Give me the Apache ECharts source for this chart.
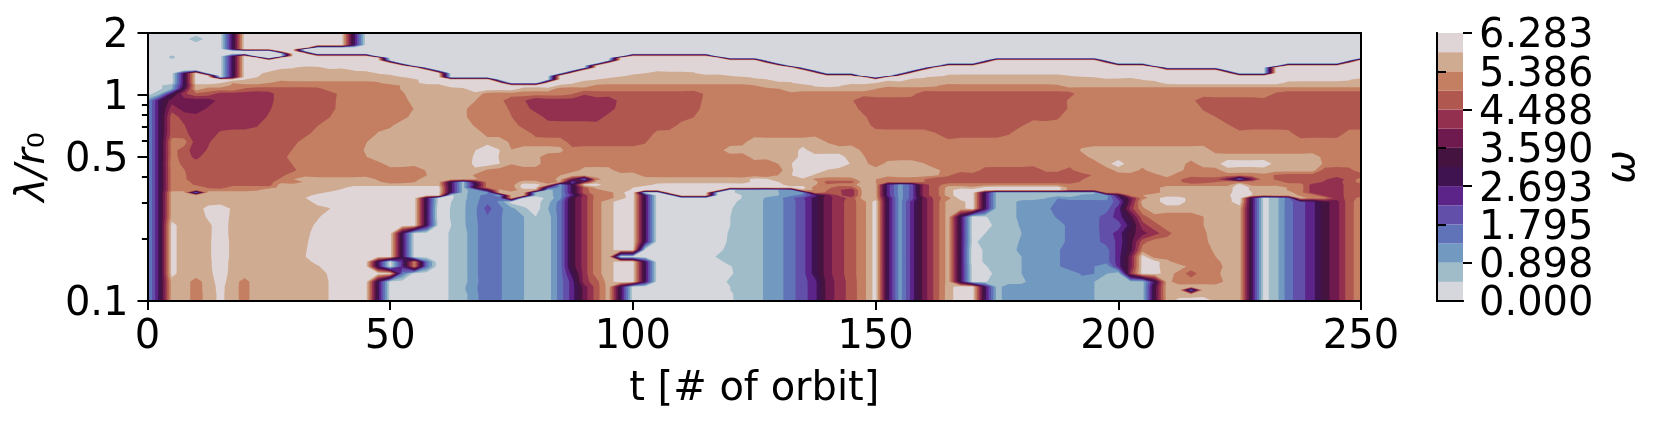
<!DOCTYPE html>
<html><head><meta charset="utf-8">
<style>html,body{margin:0;padding:0;background:#fff}#c{width:1660px;height:423px}</style>
<script src="https://cdn.jsdelivr.net/npm/echarts@6/dist/echarts.min.js"></script>
</head><body><div id="c"></div>
<script>
const xTicks=[0,50,100,150,200,250];
const yMajor=[0.1,0.5,1,2];
const yMinor=[0.2,0.3,0.4,0.6,0.7,0.8,0.9];
const cbTicks=[0,0.898,1.795,2.693,3.590,4.488,5.386,6.283];
const cbColors=['#D6D7DD','#A0BCC9','#7299BF','#6173B8','#624FA9','#5C2389','#3E1350','#451340','#6E1A4E','#933050','#B05750','#C47F62','#CFAB91','#E0D5D6'];
const omegaMax=6.283;
// sampled wavelengths, top to bottom
const lambdas=[2,1.871,1.749,1.698,1.673,1.636,1.588,1.542,1.514,1.474,1.426,1.385,1.359,1.319,1.276,1.238,1.22,1.188,1.145,1.112,1.071,1.013,.94,.857,.781,.712,.649,.591,.539,.5,.464,.431,.408,.39,.378,.367,.356,.346,.336,.326,.316,.303,.281,.256,.233,.213,.194,.177,.164,.155,.147,.136,.124,.1173,.113,.1077,.1];
// each row: level index, last t of that level, next level index, ...
const r00=[0,16,6,18.5,13,41,6,43,0];
const r01=[0,8.5,1,11.5,0,16,6,18.5,13,41,6,43,0];
const r02=[0,16,6,18.5,13,41,6,43,0];
const r03=[0,16,6,18.5,13,32.5,0];
const r04=[0,16,6,18.5,13,30.7,0];
const r05=[0,26.3,13,31.6,0];
const r06=[0,28.3,13,33.3,0];
const r07=[0,4.6,1,5.7,0,16,6,18.5,13,21.8,0,27.6,13,46.2,0,98.8,13,116.3,0];
const r08=[0,4.6,1,5.7,0,16,6,18.5,13,23.5,0,26.6,13,47.7,0,97.3,13,118.3,0];
const r09=[0,16,6,18.5,13,49.8,0,95.2,13,126.3,0,173.5,13,195.7,0,248.7,13];
const r10=[0,16,6,18.5,13,52.4,0,92.5,13,129.1,0,171.3,13,198.8,0,246.1,13];
const r11=[0,16,6,18.5,13,54.9,0,91.7,13,131.6,0,162.6,13,206.3,0,233.4,13];
const r12=[0,16,6,18.5,13,30.5,12,36,13,56.4,0,90.5,13,133.1,0,161,13,208.1,0,232,13];
const r13=[0,16,6,18.5,13,26.3,12,42.3,13,58.8,0,88.5,13,135.6,0,158.7,13,220.9,0,231,13];
const r14=[0,5,6,8,13,11.2,0,16,6,18.5,13,23.7,12,47.2,13,61,0,86.1,13,102.5,12,113,13,138.4,0,155.5,13,223.4,0,230.3,13];
const r15=[0,5,6,8,13,13.3,0,16,6,18.5,13,23,12,51,13,61.7,0,84.2,13,98.5,12,120,13,146.7,0,152.9,13,164,12,190,13];
const r16=[0,5,6,8,13,14.5,0,16,6,18.5,13,22.6,12,53,13,62,0,83.5,13,96.3,12,124,13,148,0,151.6,13,160.5,12,195,13];
const r17=[0,5,6,8,13,20,12,55.7,13,71,0,82.5,13,92.6,12,127.7,13,156.8,12,204.8,13,248,12];
const r18=[0,5,6,8,13,15,12,25,11,48,12,56,13,73.4,0,81,13,88,12,133,13,150,12,209,13,234,12];
const r19=[0,3,1,5.5,6,8,13,9.5,12,17,11,52,12,61,13,84.5,12,92,11,125,12,137,13,143,12,163,11,188,12];
const r20=[0,3,1,5.5,7,8,12,11.5,11,19.7,10,36,11,52,12,65.5,13,76.5,12,84,11,130,12,150,11];
const r21=[0,1,1,3,6,5.5,9,8,10,14,9,26,10,39,11,53,12,69,11,87.7,10,114.5,11,158.4,10,191,11,232,10];
const r22=[2,1,6,3.5,8,14,9,26,10,38.8,11,53.7,12,67.5,11,73.3,10,77.8,9,96.7,10,114.2,11,145.4,10,189.4,11,215.8,10];
const r23=[2,1,6,3.5,9,6.5,8,12,9,25.5,10,38.7,11,54.8,12,65.8,11,74.3,10,78.8,9,96.3,10,113.8,11,146.4,10,189.5,11,217.2,10];
const r24=[2,1,6,3.5,10,6.4,9,24.5,10,37.6,11,53.7,12,65.8,11,75,10,81.5,9,94,10,112.5,11,148.1,10,188,11,220,10];
const r25=[2,1,6,3.5,10,7.7,9,22.8,10,35.2,11,50.6,12,67.1,11,76.4,10,109,11,149,10,180.4,11,223,10];
const r26=[2,1,6,3.5,10,8.4,9,14.4,10,33.5,11,47.2,12,69.2,11,79.2,10,104.2,11,162.6,10,177.7,11,236,10,246.4,11];
const r27=[2,1,6,3.5,11,8.8,9,12.9,10,31,11,45.2,12,74.3,11,86.4,10,102.8,11,123.4,12,139.9,11];
const r28=[2,1,6,3.5,11,6,10,9.1,9,12.2,10,29.7,11,44.5,12,67.5,13,72.5,12,85.7,11,118.6,12,134.1,13,136,12,146.8,11,192,12,219,11];
const r29=[2,1,6,3.5,11,6,10,9.4,9,11,10,28.7,11,45.2,12,67,13,72.3,12,80.9,11,124,12,134,13,143.7,12,147.8,11,193.8,12,241.6,11];
const r30=[2,1,6,3.5,11,6.7,10,29.7,11,48.6,12,66.8,13,72.6,12,81,11,129.9,12,132.7,13,144.7,12,148.5,11,151.6,12,160,11,196.6,12,198,13,201,12,213.8,11,216,12,221,13,231.6,12,242,11];
const r31=[2,1,6,3.5,11,7.7,10,30.7,11,57.2,12,69.5,11,89,12,96,11,131,12,132.7,13,139.9,12,163.3,11,171.5,10,184.5,11,188,10,190,11,199,12,204,11,205.5,12,213.4,11,221,12,241.6,10,248.4,11];
const r32=[2,1,6,3.5,11,8,10,28.3,11,57.5,12,67,11,85,12,101.5,11,129.9,12,132.7,13,137,12,163,11,165.3,10,194.5,11,208.6,12,210.9,11,232,10];
const r33=[2,1,6,3.5,11,8,10,27,11,30,12,47,11,56,12,68,11,84,12,86.5,8,88.5,3,91,11,93.5,12,124.1,13,128,12,137,11,146,12,150,11,160,10,192.8,11,213,10,221,8,223.5,3,226,8,228.5,11,232,10,243,9,246.4,10,249,11];
const r34=[2,1,6,3.5,11,8.8,10,25.9,11,32,12,48.2,11,55.1,12,60.5,6,63,1,66,7,68.5,11,76.4,12,80.9,11,84.6,12,86.5,4,88.5,8,91,12,124.1,13,130,12,137.8,10,146,12,150,11,160,10,192,11,213,10,220,11,234,10,242,9,246,10,249,11];
const r35=[2,1,6,3.5,11,9.4,10,25.6,11,27,12,61,6,63.5,1,66,6,68.5,11,76.4,13,80.9,12,83.5,2,86,6,88.5,13,93.5,12,104,13,131,12,137.8,11,146,12,151,5,153.5,2,156,4,158.5,9,161,10,163.5,11,223.7,13,227,11,239.2,9,246.4,10];
const r36=[2,1,6,3.5,11,12,10,16.3,11,26.6,12,41,13,60.5,6,63,1,66,3,67,7,69,11,76.4,13,80.5,5,83.5,2,86,6,88.5,10,91,12,100,13,137,11,141,10,146,12,151,5,153.5,2,156,4,158.5,9,161,10,163.5,12,172,13,188,11,208.6,12,223.7,13,227,12,234.7,11,239.2,9,246.4,10];
const r37=[2,1,6,3.5,11,23,12,39.3,13,60.5,6,63,1,66,2,69,7,71,12,73,11,76,12,80,5,81.5,1,83.5,2,86,6,88.5,10,91,11,93.5,12,99.4,13,118.3,0,121,1,129.9,2,132.7,12,137,11,140,10,143,9,145.5,10,147,12,151,5,153.5,2,156,4,158.5,9,161,10,163.5,12,166,13,188,11,208.6,12,223.7,13,227,12,234.7,11,239.2,9,246.4,10];
const r38=[2,1,6,3.5,12,8.5,3,11.5,12,36.6,13,60.5,6,63,1,66,2,71.3,12,79.8,1,83.5,2,86,6,88.5,10,91,11,96,12,98,13,101.8,0,106.6,13,116.2,0,121,1,130,2,136.1,11,139.5,10,143,9,145.5,10,147,12,151,5,153.5,2,156,4,158.5,9,161,10,163.5,12,166,13,171,6,173.5,1,196.7,11,208.6,12,223.4,13,227.5,12,236,11,239,9,246.4,10];
const r39=[2,1,6,3.5,12,33.8,13,61,0,63,1,66,2,68.5,3,71,2,73.5,12,79,1,83.5,2,86,5,88.5,9,91,11,96,12,98.5,13,101,6,103.5,0,108.7,13,116,0,122.4,1,130,2,134,3,136,5,138,8,141,10,143,9,145.5,10,147,12,151,5,153.5,2,156,4,158.5,9,161,10,163.5,12,166,13,171,6,173.5,1,192,2,199,6,201,11,205,12,223,13,227.5,12,237,11,240,9,246.4,10];
const r40=[2,1,6,3.5,12,32.5,13,55.5,6,58.5,0,63,1,66,2,68.5,3,73.8,12,76.7,0,82,1,83.5,2,85.5,4,86.5,7,88.5,9,91,11,96,12,98.5,13,101,6,103.5,0,122.4,1,127,2,131,3,133,4,135,5,137,6,138.5,8,141,9,144,10,147,12,151,6,153.5,2,156,4,158.5,8,161,10,163.5,11,166,13,171,6,173.5,1,185,2,199,5,201,8,203,11,206,12,208.6,13,213.8,12,223.3,13,226,6,228.5,0,231,1,234,3,236.5,12,239,11,243.5,9,246.5,10,249,11];
const r41=[2,1,6,3.5,12,33.8,13,55.5,6,58.5,0,62.5,1,66,2,68,3,72,2,74,0,81,1,83.5,3,86,7,88.5,9,91,11,93.5,12,96,13,101,6,103.5,0,121.4,1,126.8,2,131,3,133.5,4,136,6,138.5,8,141,9,143.5,10,146,11,148.5,13,151,6,153.5,2,156,5,158.5,8,161,10,163.5,12,168.5,13,171,6,173.5,1,179,2,187,3,199,4,201,8,203.5,12,208.6,13,213.8,12,223.4,13,226,6,228.5,0,231,1,233.5,3,236,4,238.5,5,241,7,243.5,8,246,10,248.5,11];
const r42=[2,1,6,3.5,12,11.5,13,17,12,37.6,13,55.5,6,58.5,0,62.3,1,65.5,2,67.8,3,69,4,71,3,73,2,76,1,77.5,0,80,1,83.5,3,86,7,88.5,9,91,11,93.5,12,96,13,101,6,103.5,0,120.5,1,126.8,2,131,3,133.5,4,136,6,138.5,8,141,9,143.5,10,146,11,148.5,13,151,6,153.5,2,156,5,158.5,8,161,10,163.5,12,168.5,13,171,6,173.5,1,179,2,186,3,199.5,5,201,9,203.5,11,205.5,12,226,6,228.5,0,231,1,233.5,3,236,4,238.5,5,241,7,243.5,8,246,10,248.5,11];
const r43=[2,1,6,3.5,12,12,13,16.8,12,35.5,13,55.5,6,58.5,0,62.3,1,65.5,2,67.8,3,73,2,77.5,1,83.5,3,86,7,88.5,9,91,11,93.5,12,96,13,101,6,103.5,0,120,1,126.8,2,131,3,133.5,4,136,6,138.5,8,141,9,143.5,10,146,11,148.5,13,151,6,153.5,2,156,5,158.5,8,161,10,163.5,12,166,6,168.5,0,173,1,179,2,187,3,196,4,199,5,201,7,203.5,10,206,11,217.5,12,226,6,228.5,0,231,1,233.5,3,236,4,238.5,5,241,7,243.5,8,246,10,248.5,11];
const r44=[2,1,6,3.5,13,6,12,13.2,13,16.6,12,34.2,13,55.5,6,58.5,0,62.5,1,66,2,67.8,3,73,2,77.5,1,83.5,3,86,7,88.5,9,91,11,93.5,12,96,13,101,6,103.5,0,120,1,126.8,2,131,3,133.5,4,136,6,138.5,8,141,9,143.5,10,146,11,148.5,13,151,6,153.5,2,156,5,158.5,8,161,10,163.5,12,166,6,168.5,0,174,1,179.5,2,189,3,196,4,201,6,203.5,9,206,10,208.5,11,217.5,12,226,6,228.5,0,231,1,233.5,3,236,4,238.5,5,241,7,243.5,8,246,10,248.5,11];
const r45=[2,1,6,3.5,13,6,12,13.2,13,16.6,12,33.5,13,51,6,53.5,0,62,1,66,2,67.8,3,73,2,77.5,1,83.5,3,86,7,88.5,9,91,11,93.5,12,96,13,101,6,103.5,0,119.5,1,126.8,2,131,3,133.5,4,136,6,138.5,8,141,9,143.5,10,146,11,148.5,13,151,6,153.5,2,156,5,158.5,8,161,10,163.5,12,166,6,168.5,0,172.5,1,180,2,189,3,196,4,199,5,201,7,203.5,8,206,9,208.5,10,211,11,218.2,12,226,6,228.5,0,231,1,233.5,3,236,4,238.5,5,241,7,243.5,8,246,10,248.5,11];
const r46=[2,1,6,3.5,13,6,12,13.1,13,16.8,12,33.1,13,51,6,53.5,0,62,1,66,2,67.8,3,73,2,77.5,1,83.5,3,86,7,88.5,9,91,11,93.5,12,96,13,101,6,103.5,0,119.3,1,126.8,2,131,3,133.5,4,136,6,138.5,8,141,9,143.5,10,146,11,148.5,13,151,6,153.5,2,156,5,158.5,8,161,10,163.5,12,166,6,168.5,0,171,1,179.5,2,189,3,196,4,199.5,5,201,7,203.5,10,206,11,218.5,12,226,6,228.5,0,231,1,233.5,3,236,4,238.5,5,241,7,243.5,8,246,10,248.5,11];
const r47=[2,1,6,3.5,13,6,12,13.1,13,16.8,12,32.8,13,51,6,53.5,0,62,1,66,2,67.8,3,73,2,77.5,1,83.5,3,86,7,88.5,9,91,11,93.5,12,96,13,100.5,0,118.6,1,126.8,2,131,3,133.5,4,136,6,138.5,8,141,9,143.5,10,146,11,148.5,13,151,6,153.5,2,156,5,158.5,8,161,10,163.5,12,166,6,168.5,0,172,1,179,2,188,3,199,5,201,7,203.5,11,219.3,12,226,6,228.5,0,231,1,233.5,3,236,4,238.5,5,241,7,243.5,8,246,10,248.5,11];
const r48=[2,1,6,3.5,13,6,12,13.1,13,16.8,12,32.5,13,50.6,6,53,0,62,1,66,2,67.8,3,73,2,77.5,1,83.5,3,86,7,88.5,9,91,11,93.5,12,95.5,0,117,1,126.8,2,131,3,133.5,4,136,6,138.5,8,141,9,143.5,10,146,11,148.5,13,151,6,153.5,2,156,5,158.5,8,161,10,163.5,12,166,6,168.5,0,172,1,180,2,188,3,199,5,201,8,203.5,13,206,11,220,12,226,6,228.5,0,231,1,233.5,3,236,4,238.5,5,241,7,243.5,8,246,10,248.5,11];
const r49=[2,1,6,3.5,13,6,12,13.2,13,16.6,12,33.8,13,45.5,6,48.5,0,51,5,53.5,11,56,3,58.5,0,62,1,66,2,67.8,3,73,2,77.5,1,83.5,3,86,7,88.5,9,91,11,93.5,12,96,13,101,6,103.5,0,118.6,1,126.8,2,131,3,133.5,4,136,6,138.5,8,141,9,143.5,10,146,11,148.5,13,151,6,153.5,2,156,5,158.5,8,161,10,163.5,12,166,6,168.5,0,172,1,180,2,188,3,199,5,201,8,203.5,13,208.5,12,211,11,221,12,226,6,228.5,0,231,1,233.5,3,236,4,238.5,5,241,7,243.5,8,246,10,248.5,11];
const r50=[2,1,6,3.5,13,6,12,13.2,13,16.6,12,35.5,13,45.5,6,48.5,0,51,5,53.5,11,56,3,58.5,0,62,1,66,2,67.8,3,73,2,77.5,1,83.5,3,86,7,88.5,9,91,11,93.5,12,96,13,101,6,103.5,0,120.4,1,126.8,2,131,3,133.5,4,136,6,138.5,8,141,9,143.5,10,146,11,148.5,13,151,6,153.5,2,156,5,158.5,8,161,10,163.5,12,166,6,168.5,0,173,1,180,2,188,3,195,2,199,5,201,8,203.5,13,208.5,12,214,11,221.5,12,226,6,228.5,0,231,1,233.5,3,236,4,238.5,5,241,7,243.5,8,246,10,248.5,11];
const r51=[2,1,6,3.5,13,6,12,13.4,13,16.5,12,36.9,13,51,3,53.5,0,62,1,66,2,67.8,3,73,2,77.5,1,83.5,3,86,6,88.5,9,91,11,93.5,12,96,13,101,6,103.5,0,120.7,1,126.8,2,131,3,133.5,4,136,6,138.5,8,141,9,143.5,10,146,11,148.5,13,151,6,153.5,2,156,5,158.5,8,161,10,163.5,12,166,6,168.5,0,174,1,180,2,192,3,195,2,198,1,201,9,203.5,13,208.5,12,212,11,213.5,10,216,11,221,12,226,6,228.5,0,231,1,233.5,3,236,4,238.5,5,241,7,243.5,8,246,10,248.5,11];
const r52=[2,1,6,3.5,12,8.8,11,11.2,12,13.8,13,16,12,19,11,21,12,37.3,13,46,6,48.5,0,62,1,66,2,68,3,73,2,77.5,1,83.5,3,86,5,88.5,9,91,10,93.5,12,96,13,101,6,103.5,0,119.3,1,126.8,2,131,3,133.5,4,136,5,138,6,139.5,8,141.5,9,144,10,146,11,148.5,13,151,6,153.5,2,156,5,158.5,8,161,10,163.5,12,166,6,168.5,0,173,1,181,2,195,1,206,6,208.5,12,211,11,221.6,12,226,6,228.5,0,231,1,233.5,3,236,4,238.5,5,241,7,243.5,8,246,10,248.5,11];
const r53=[2,1,6,3.5,12,8.8,11,11.2,12,14,13,15.6,12,19,11,21,12,37.3,13,46,6,48.5,0,62,1,65.5,2,68,3,73,2,77.5,1,83.5,3,86,5,88.5,8,91,10,93.5,12,95,6,98.5,0,120,1,126.8,2,131,3,133.5,4,136,5,138,6,139.5,8,141.5,9,144,10,146,11,148.5,13,151,6,153.5,2,156,5,158.5,8,161,10,163.5,12,166,13,171,6,173.5,1,176,2,195,1,206,7,208.5,12,226,6,228.5,0,231,1,233.5,3,236,4,238.5,5,241,7,243.5,8,246,10,248.5,11];
const r54=[2,1,6,3.5,12,8.8,11,11.2,12,14,13,15.6,12,19,11,21,12,37.3,13,46,6,48.5,0,62,1,65.5,2,68,3,73,2,77.5,1,83.5,3,86,5,88.5,8,91,10,93.5,12,95,6,98.5,0,120,1,126.8,2,131,3,133.5,4,136,5,138,6,139.5,8,141.5,9,144,10,146,11,148.5,13,151,6,153.5,2,156,5,158.5,8,161,10,163.5,12,166,13,171,6,173.5,1,176,2,195,1,206,7,208.5,12,213.5,3,216,12,226,6,228.5,0,231,1,233.5,3,236,4,238.5,5,241,7,243.5,8,246,10,248.5,11];
const r55=[2,1,6,3.5,12,8.8,11,11.2,12,14.3,13,15.7,12,19,11,21,12,37.3,13,46,6,48.5,0,62,1,66,2,68,3,73,2,77.5,1,83.5,3,86,5,88.5,8,91,10,93.5,12,95,6,98.5,0,120.7,1,126.8,2,131,3,133.5,4,136,5,138,6,139.5,8,141.5,9,144,10,146,11,148.5,13,151,6,153.5,2,156,5,158.5,8,161,10,163.5,12,166,13,171,6,173.5,1,176,2,195,1,206,7,208.5,12,226,6,228.5,0,231,1,233.5,3,236,4,238.5,5,241,7,243.5,8,246,10,248.5,11];
const r56=[2,1,6,3.5,12,8.8,11,11.2,12,14.3,13,15.7,12,19,11,21,12,37.3,13,46,6,48.5,0,62,1,66,2,68,3,73,2,77.5,1,83.5,3,86,5,88.5,8,91,10,93.5,12,95,6,98.5,0,120.7,1,126.8,2,131,3,133.5,4,136,5,138,6,139.5,8,141.5,9,144,10,146,11,148.5,13,151,6,153.5,2,156,5,158.5,8,161,10,163.5,12,166,13,171,6,173.5,1,176,2,195,1,206,7,208.5,12,211.5,13,219.5,12,226,6,228.5,0,231,1,233.5,3,236,4,238.5,5,241,7,243.5,8,246,10,248.5,11];
const rows=[r00,r01,r02,r03,r04,r05,r06,r07,r08,r09,r10,r11,r12,r13,r14,r15,r16,r17,r18,r19,r20,r21,r22,r23,r24,r25,r26,r27,r28,r29,r30,r31,r32,r33,r34,r35,r36,r37,r38,r39,r40,r41,r42,r43,r44,r45,r46,r47,r48,r49,r50,r51,r52,r53,r54,r55,r56];

const tStep=2.5, nT=101, levelStep=omegaMax/14;
const times=Array.from({length:nT},(_,i)=>i*tStep);
function levelAt(row,t){for(let i=1;i<row.length;i+=2){if(t<=row[i])return row[i-1];}return row[row.length%2?row.length-1:row.length-2];}
// grid values in level units; a step between neighbouring levels keeps the t it was read at
function rowValues(row){
  const b=times.map(t=>levelAt(row,t));
  const sum=b.map(()=>0),cnt=b.map(()=>0);
  for(let i=0;i<nT-1;i++){
    if(Math.abs(b[i+1]-b[i])!==1)continue;
    let e=null;
    for(let k=1;k<row.length;k+=2){if(row[k]>=times[i]&&row[k]<times[i+1]&&row[k+1]===b[i+1]){e=row[k];break;}}
    const f=e===null?0.5:(e-times[i])/tStep;
    const up=b[i+1]>b[i],B=Math.max(b[i],b[i+1]);
    sum[i]+=up?B-f:B+f;cnt[i]++;
    sum[i+1]+=up?B+1-f:B-1+f;cnt[i+1]++;
  }
  return b.map((v,i)=>{const x=cnt[i]?sum[i]/cnt[i]:v+0.5;return Math.min(v+0.97,Math.max(v+0.03,x));});
}
const omega=rows.map(rowValues);

function clipPoly(p,L){const out=[];for(let k=0;k<p.length;k++){const a=p[k],b=p[(k+1)%p.length];const ia=a[2]>=L,ib=b[2]>=L;if(ia)out.push(a);if(ia!==ib){const f=(L-a[2])/(b[2]-a[2]);out.push([a[0]+f*(b[0]-a[0]),a[1]+f*(b[1]-a[1]),L]);}}return out;}
// one compound path per contour level, painted from lowest to highest
const contourLevels=cbColors.map((c,k)=>[0,2,k]);
function renderLevel(params,api){
  const L=api.value(2);const parts=[];
  for(let j=0;j<lambdas.length-1;j++){
    const l0=Math.log10(lambdas[j]),l1=Math.log10(lambdas[j+1]);
    for(let i=0;i<nT-1;i++){
      const quad=[[times[i],l0,omega[j][i]],[times[i+1],l0,omega[j][i+1]],[times[i+1],l1,omega[j+1][i+1]],[times[i],l1,omega[j+1][i]]];
      const pl=clipPoly(quad,L);
      if(pl.length<3)continue;
      parts.push('M'+pl.map(q=>{const c=api.coord([q[0],Math.pow(10,q[1])]);return c[0].toFixed(2)+' '+c[1].toFixed(2);}).join('L')+'Z');
    }
  }
  return {type:'path',shape:{pathData:parts.join('')},style:{fill:cbColors[L]},silent:true};
}
const cbBands=cbColors.map((c,k)=>[0,k*levelStep,(k+1)*levelStep,k]);
function renderBand(params,api){
  const a=api.coord([0,api.value(1)]),b=api.coord([1,api.value(2)]);
  return {type:'rect',shape:{x:a[0],y:b[1],width:b[0]-a[0],height:a[1]-b[1]},style:{fill:cbColors[api.value(3)]}};
}
const FONT='DejaVu Sans',FS=40,LINE={color:'#000',width:2};
const chart=echarts.init(document.getElementById('c'),null,{renderer:'canvas'});
const hidden={axisTick:{show:false},axisLabel:{show:false},splitLine:{show:false}};
// the colour-bar labels sit closer than their font size, so odd and even ticks use separate axes
const cbEven=cbTicks.filter((v,k)=>k%2===0),cbOdd=cbTicks.filter((v,k)=>k%2===1);
const cbLabel=vals=>({color:'#000',fontFamily:FONT,fontSize:FS,margin:16,verticalAlign:'top',lineHeight:8,hideOverlap:false,showMinLabel:true,showMaxLabel:true,customValues:vals,formatter:v=>(+v).toFixed(3)});
chart.setOption({
  animation:false,backgroundColor:'#fff',
  grid:[{left:147.5,top:33,width:1213.5,height:268},{left:1437,top:33,width:26,height:268}],
  xAxis:[
    {type:'value',gridIndex:0,min:xTicks[0],max:xTicks[5],interval:xTicks[1],z:5,position:'bottom',
     axisLine:{lineStyle:LINE},axisTick:{length:9,lineStyle:LINE},splitLine:{show:false},
     axisLabel:{color:'#000',fontFamily:FONT,fontSize:FS,margin:17},
     name:'t [# of orbit]',nameLocation:'middle',nameGap:69,nameTextStyle:{color:'#000',fontFamily:FONT,fontSize:FS}},
    {type:'value',gridIndex:0,min:0,max:250,z:5,position:'top',axisLine:{lineStyle:LINE},...hidden},
    {type:'value',gridIndex:1,min:0,max:1,z:5,position:'bottom',axisLine:{lineStyle:LINE},...hidden},
    {type:'value',gridIndex:1,min:0,max:1,z:5,position:'top',axisLine:{lineStyle:LINE},...hidden}
  ],
  yAxis:[
    {type:'log',gridIndex:0,min:0.1,max:2,z:5,position:'left',
     axisLine:{lineStyle:LINE},splitLine:{show:false},minorTick:{show:false},
     axisTick:{length:10,lineStyle:LINE,customValues:yMajor},
     axisLabel:{color:'#000',fontFamily:FONT,fontSize:FS,margin:19,verticalAlign:'top',lineHeight:8,customValues:yMajor,formatter:v=>String(+(+v).toFixed(1))},
     name:'{a|λ/r}{b|₀}',nameLocation:'middle',nameGap:89,nameRotate:90,
     nameTextStyle:{color:'#000',fontFamily:FONT,fontSize:FS,rich:{a:{fontFamily:FONT,fontStyle:'italic',fontSize:FS,color:'#000'},b:{fontFamily:FONT,fontSize:FS,color:'#000'}}}},
    {type:'log',gridIndex:0,min:0.1,max:2,z:5,position:'left',axisLine:{show:false},splitLine:{show:false},
     axisTick:{length:5.6,lineStyle:LINE,customValues:yMinor},axisLabel:{show:false}},
    {type:'log',gridIndex:0,min:0.1,max:2,z:5,position:'right',axisLine:{lineStyle:LINE},...hidden},
    {type:'value',gridIndex:1,min:0,max:omegaMax,z:5,position:'left',axisLine:{lineStyle:LINE},...hidden},
    {type:'value',gridIndex:1,min:0,max:omegaMax,z:5,position:'right',
     axisLine:{lineStyle:LINE},splitLine:{show:false},
     axisTick:{length:9,lineStyle:LINE,customValues:cbEven},axisLabel:cbLabel(cbEven),
     name:'ω',nameLocation:'middle',nameGap:141,nameRotate:90,
     nameTextStyle:{color:'#000',fontFamily:FONT,fontSize:FS,fontStyle:'italic'}},
    {type:'value',gridIndex:1,min:0,max:omegaMax,z:5,position:'right',
     axisLine:{show:false},splitLine:{show:false},
     axisTick:{length:9,lineStyle:LINE,customValues:cbOdd},axisLabel:cbLabel(cbOdd)}
  ],
  series:[
    {type:'custom',coordinateSystem:'cartesian2d',xAxisIndex:0,yAxisIndex:0,data:contourLevels,encode:{x:0,y:1},renderItem:renderLevel,silent:true,clip:true,z:2},
    {type:'custom',coordinateSystem:'cartesian2d',xAxisIndex:2,yAxisIndex:3,data:cbBands,encode:{x:0,y:1},renderItem:renderBand,silent:true,clip:true,z:2}
  ]
});
</script></body></html>
